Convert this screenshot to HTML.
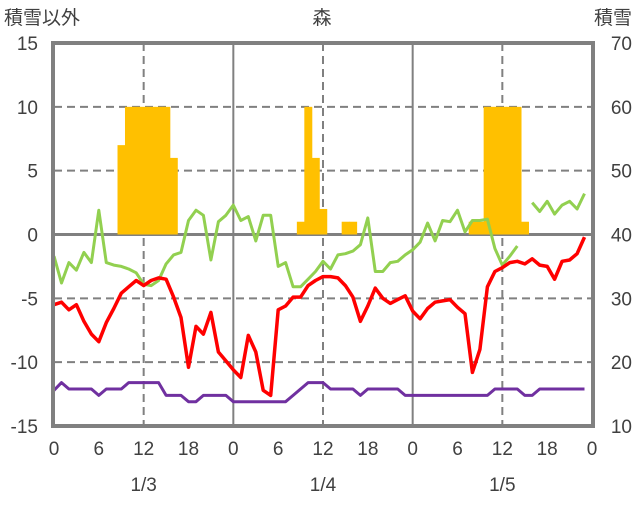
<!DOCTYPE html>
<html><head><meta charset="utf-8"><style>
body{margin:0;background:#fff}
svg text{font-family:"Liberation Sans","Noto Sans CJK JP",sans-serif;fill:#404040;font-size:19px}
</style></head><body>
<svg id="c" width="636" height="501" viewBox="0 0 636 501">
<text x="4" y="24">積雪以外</text>
<text x="322" y="24" text-anchor="middle">森</text>
<text x="632" y="24" text-anchor="end">積雪</text>
<g id="grid"></g><g id="bars"></g><g id="lines"></g><g id="axes"></g>
</svg>
<script>
const leftTicks=[15,10,5,0,-5,-10,-15];
const rightTicks=[70,60,50,40,30,20,10];
const hourLabels=["0","6","12","18","0","6","12","18","0","6","12","18","0"];
const dateLabels=["1/3","1/4","1/5"];
const snow=[null,null,null,null,null,null,null,null,null,54,60,60,60,60,60,60,52,null,null,null,null,null,null,null,
null,null,null,null,null,null,null,null,null,42,60,52,44,null,null,42,42,null,null,null,null,null,null,null,
null,null,null,null,null,null,null,null,42,42,60,60,60,60,60,42,null,null,null,null,null,null,null,null];
const red=[-5.5,-5.3,-5.9,-5.5,-6.8,-7.8,-8.4,-6.9,-5.8,-4.6,-4.1,-3.6,-4.0,-3.6,-3.4,-3.5,-4.9,-6.5,-10.4,-7.2,-7.8,-6.1,-9.2,-9.9,
-10.6,-11.2,-7.9,-9.2,-12.2,-12.6,-5.9,-5.6,-4.9,-4.9,-4.0,-3.6,-3.3,-3.3,-3.4,-4.0,-4.9,-6.8,-5.6,-4.2,-5.0,-5.4,-5.1,-4.8,
-6.0,-6.6,-5.8,-5.3,-5.2,-5.1,-5.7,-6.2,-10.8,-9.0,-4.1,-2.9,-2.6,-2.2,-2.1,-2.3,-1.9,-2.4,-2.5,-3.5,-2.1,-2.0,-1.5,-0.2];
const green=[-1.7,-3.8,-2.2,-2.8,-1.4,-2.2,1.9,-2.2,-2.4,-2.5,-2.7,-3.0,-3.9,-4.0,-3.6,-2.3,-1.6,-1.4,1.1,1.9,1.5,-2.0,1.0,1.5,
2.3,1.1,1.4,-0.5,1.5,1.5,-2.5,-2.2,-4.1,-4.1,-3.5,-2.9,-2.1,-2.7,-1.6,-1.5,-1.3,-0.8,1.3,-2.9,-2.9,-2.2,-2.1,-1.6,
-1.2,-0.6,0.9,-0.5,1.1,1.0,1.9,0.2,1.1,1.1,1.2,-1.1,-2.4,-1.7,-0.9,null,2.5,1.8,2.6,1.6,2.3,2.6,2.0,3.2];
const purple=[-12.2,-11.6,-12.1,-12.1,-12.1,-12.1,-12.6,-12.1,-12.1,-12.1,-11.6,-11.6,-11.6,-11.6,-11.6,-12.6,-12.6,-12.6,-13.1,-13.1,-12.6,-12.6,-12.6,-12.6,
-13.1,-13.1,-13.1,-13.1,-13.1,-13.1,-13.1,-13.1,-12.6,-12.1,-11.6,-11.6,-11.6,-12.1,-12.1,-12.1,-12.1,-12.6,-12.1,-12.1,-12.1,-12.1,-12.1,-12.6,
-12.6,-12.6,-12.6,-12.6,-12.6,-12.6,-12.6,-12.6,-12.6,-12.6,-12.6,-12.1,-12.1,-12.1,-12.1,-12.6,-12.6,-12.1,-12.1,-12.1,-12.1,-12.1,-12.1,-12.1];

const X0=54,X1=592,Y0=43,Y1=426;
const x=h=>X0+h*(X1-X0)/72;
const yL=v=>Y0+(15-v)*(Y1-Y0)/30;
const yR=v=>Y0+(70-v)*(Y1-Y0)/60;
const NS="http://www.w3.org/2000/svg";
function mk(tag,attrs,parent){const e=document.createElementNS(NS,tag);for(const k in attrs)e.setAttribute(k,attrs[k]);document.getElementById(parent).appendChild(e);return e;}

leftTicks.forEach(v=>{
  if(v===15||v===-15)return;
  const l=mk('line',{x1:X0,x2:X1,y1:yL(v),y2:yL(v),stroke:'#808080','stroke-width':v===0?3:2,'stroke-dasharray':v===0?'':'8 5'},'grid');
  
  
});
for(let d=0;d<3;d++){
  const mid=mk('line',{x1:x(d*24+12),x2:x(d*24+12),y1:Y0,y2:Y1,stroke:'#808080','stroke-width':2,'stroke-dasharray':'8 5'},'grid');
  
  
  if(d>0){
    const s=mk('line',{x1:x(d*24),x2:x(d*24),y1:Y0,y2:Y1,stroke:'#808080','stroke-width':2},'grid');
    
    
  }
}
const bw=(X1-X0)/72;
snow.forEach((v,h)=>{
  if(v==null)return;
  const top=Math.min(yR(v),yR(40)),hgt=Math.abs(yR(40)-yR(v));
  const r=mk('rect',{x:x(h)-bw/2,y:top,width:bw+0.5,height:hgt,fill:'#FFC000'},'bars');
  
  
});
function line(arr,color,name){
  let d='',pen=false;
  arr.forEach((v,h)=>{if(v==null){pen=false;return;}d+=(pen?'L':'M')+x(h).toFixed(1)+' '+yL(v).toFixed(1);pen=true;});
  const p=mk('path',{d:d,fill:'none',stroke:color,'stroke-width':name==='red-series'?3.5:3,'stroke-linejoin':'round'},'lines');
  
  
}
line(green,'#92D050','green-series');
line(red,'#FF0000','red-series');
line(purple,'#7030A0','purple-series');

const b=mk('rect',{x:X0-1,y:Y0,width:X1-X0+2,height:Y1-Y0,fill:'none',stroke:'#808080','stroke-width':4},'axes');


leftTicks.forEach(v=>{
  const t=mk('text',{x:38,y:yL(v)+7,'text-anchor':'end'},'axes');t.textContent=v;
  
  
});
rightTicks.forEach(v=>{
  const t=mk('text',{x:632,y:yR(v)+7,'text-anchor':'end'},'axes');t.textContent=v;
  
  
});
hourLabels.forEach((s,i)=>{
  const t=mk('text',{x:x(i*6),y:455,'text-anchor':'middle'},'axes');t.textContent=s;
  
  
});
dateLabels.forEach((s,i)=>{
  const t=mk('text',{x:x(i*24+12),y:491,'text-anchor':'middle'},'axes');t.textContent=s;
  
  
});
</script>
</body></html>
